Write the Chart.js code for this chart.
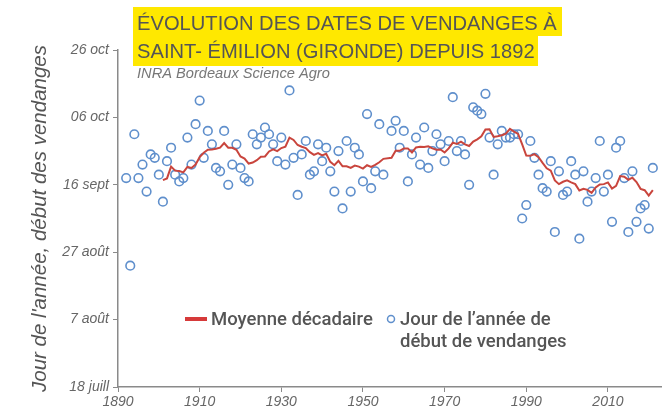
<!DOCTYPE html>
<html>
<head>
<meta charset="utf-8">
<script src="https://cdn.jsdelivr.net/npm/chart.js@4.4.0/dist/chart.umd.min.js"></script>
<style>
  html, body { margin: 0; padding: 0; background: #fff; }
</style>
</head>
<body>
<canvas id="chartVendanges" width="667" height="416"></canvas>
<script>
const FIRST_YEAR = 1892;
// jour de l'année du début des vendanges, 1892 -> 2021 (1956 : pas de vendange, gel)
const harvestDays = [
  261, 235, 274, 261, 265, 257, 268, 267, 262, 254,
  266, 270, 262, 260, 261, 273, 265, 277, 284, 267,
  275, 271, 264, 263, 275, 259, 265, 271, 264, 261,
  260, 274, 271, 273, 276, 274, 271, 266, 273, 265,
  287, 267, 256, 268, 272, 262, 263, 271, 266, 270,
  263, 257, 269, 252, 272, 257, 270, 268, 260, 280,
  258, 263, 277, 262, null, 275, 278, 270, 275, 260,
  268, 273, 265, 276, 264, 269, 274, 271, 266, 272,
  285, 269, 272, 268, 259, 282, 281, 280, 286, 273,
  262, 271, 275, 273, 273, 274, 274, 249, 253, 272,
  267, 262, 258, 257, 266, 245, 263, 256, 257, 266,
  262, 243, 263, 254, 257, 261, 272, 257, 262, 248,
  270, 272, 261, 245, 263, 248, 252, 253, 246, 264
];
const dayTicks = [199, 219, 239, 259, 279, 299];
const dayLabels = ["18 juill", "7 août", "27 août", "16 sept", "06 oct", "26 oct"];
const yearTicks = [1890, 1910, 1930, 1950, 1970, 1990, 2010];

const harvestPoints = harvestDays.map((d, i) => ({ x: FIRST_YEAR + i, y: d }));

// la courbe rouge du graphique = moyenne des 10 dernières années disponibles
const decadeAvg = [];
harvestPoints.forEach((p, i) => {
  const last = harvestPoints.slice(0, i + 1).filter(q => q.y !== null).slice(-10);
  if (p.y !== null && last.length === 10) {
    decadeAvg.push({ x: p.x, y: last.reduce((s, q) => s + q.y, 0) / 10 });
  }
});

const FONT = "'Liberation Sans', Arial, sans-serif";
const LEGEND_FONT = "Roboto, 'Liberation Sans', sans-serif";

function fitSize(ctx, text, style, family, width, base) {
  ctx.font = style + " " + base + "px " + family;
  return base * width / ctx.measureText(text).width;
}

const overlay = {
  id: "overlay",
  beforeDraw(chart) {
    const ctx = chart.ctx;
    ctx.save();
    ctx.fillStyle = "#fff";
    ctx.fillRect(0, 0, chart.width, chart.height);
    ctx.restore();
  },
  afterDraw(chart) {
    const ctx = chart.ctx;
    ctx.save();
    // titre surligné
    const t1 = "ÉVOLUTION DES DATES DE VENDANGES À";
    const t2 = "SAINT- ÉMILION (GIRONDE) DEPUIS 1892";
    const size = fitSize(ctx, t1, "normal", FONT, 420, 20);
    ctx.fillStyle = "#ffe800";
    ctx.fillRect(133, 7, 429, 29);
    ctx.fillRect(133, 36, 405, 30);
    ctx.fillStyle = "#555";
    ctx.font = size + "px " + FONT;
    ctx.textBaseline = "alphabetic";
    ctx.fillText(t1, 137, 30);
    ctx.fillText(t2, 137, 58);

    const sub = "INRA Bordeaux Science Agro";
    ctx.font = "italic " + fitSize(ctx, sub, "italic", FONT, 193, 14) + "px " + FONT;
    ctx.fillStyle = "#777";
    ctx.fillText(sub, 137, 78);

    // légende
    const ds = chart.data.datasets;
    const lsize = fitSize(ctx, ds[0].label, "500", LEGEND_FONT, 162, 16);
    ctx.font = "500 " + lsize + "px " + LEGEND_FONT;
    ctx.fillStyle = "#d63a3a";
    ctx.fillRect(185, 317, 22, 4);
    ctx.fillStyle = "#555";
    ctx.textBaseline = "middle";
    ctx.fillText(ds[0].label, 211, 320);
    ctx.beginPath();
    ctx.arc(391, 319, 3.5, 0, Math.PI * 2);
    ctx.strokeStyle = ds[1].pointBorderColor;
    ctx.lineWidth = 1.5;
    ctx.stroke();
    ctx.fillText("Jour de l’année de", 400, 320);
    ctx.fillText("début de vendanges", 400, 342);
    ctx.restore();
  }
};

new Chart(document.getElementById("chartVendanges"), {
  type: "line",
  data: {
    datasets: [
      {
        label: "Moyenne décadaire",
        data: decadeAvg,
        borderColor: "#c9453d",
        borderWidth: 2,
        pointRadius: 0,
        tension: 0,
        order: 0
      },
      {
        label: "Jour de l’année de début de vendanges",
        data: harvestPoints,
        showLine: false,
        pointRadius: 4.3,
        pointBorderWidth: 1.6,
        pointBorderColor: "#5f8fcc",
        pointBackgroundColor: "rgba(0,0,0,0)",
        order: 1
      }
    ]
  },
  options: {
    responsive: false,
    animation: false,
    layout: { padding: { left: 0, right: 6, top: 50, bottom: 0 } },
    plugins: { legend: { display: false }, tooltip: { enabled: false } },
    scales: {
      x: {
        type: "linear",
        min: 1890,
        max: 2023,
        afterBuildTicks: s => { s.ticks = yearTicks.map(v => ({ value: v })); },
        afterFit: s => { s.height = 29; },
        ticks: {
          callback: v => String(v),
          color: "#666",
          font: { family: FONT, style: "italic", size: 14 },
          padding: 2,
          maxRotation: 0,
          autoSkip: false
        },
        grid: { drawOnChartArea: false, tickLength: 5, color: "#8a8a8a" },
        border: { color: "#8a8a8a", width: 1.5 }
      },
      y: {
        min: 199,
        max: 299,
        afterBuildTicks: s => { s.ticks = dayTicks.map(v => ({ value: v })); },
        afterFit: s => { s.width = 118; },
        ticks: {
          callback: v => dayLabels[dayTicks.indexOf(v)],
          color: "#666",
          font: { family: FONT, style: "italic", size: 14 },
          padding: 4,
          autoSkip: false
        },
        grid: { drawOnChartArea: false, tickLength: 5, color: "#8a8a8a" },
        border: { color: "#8a8a8a", width: 1.5 },
        title: {
          display: true,
          text: "Jour de l'année, début des vendanges",
          color: "#555",
          font: { family: FONT, style: "italic", size: 20.5 },
          padding: { top: 28, bottom: 0 }
        }
      }
    }
  },
  plugins: [overlay]
});
</script>
</body>
</html>
